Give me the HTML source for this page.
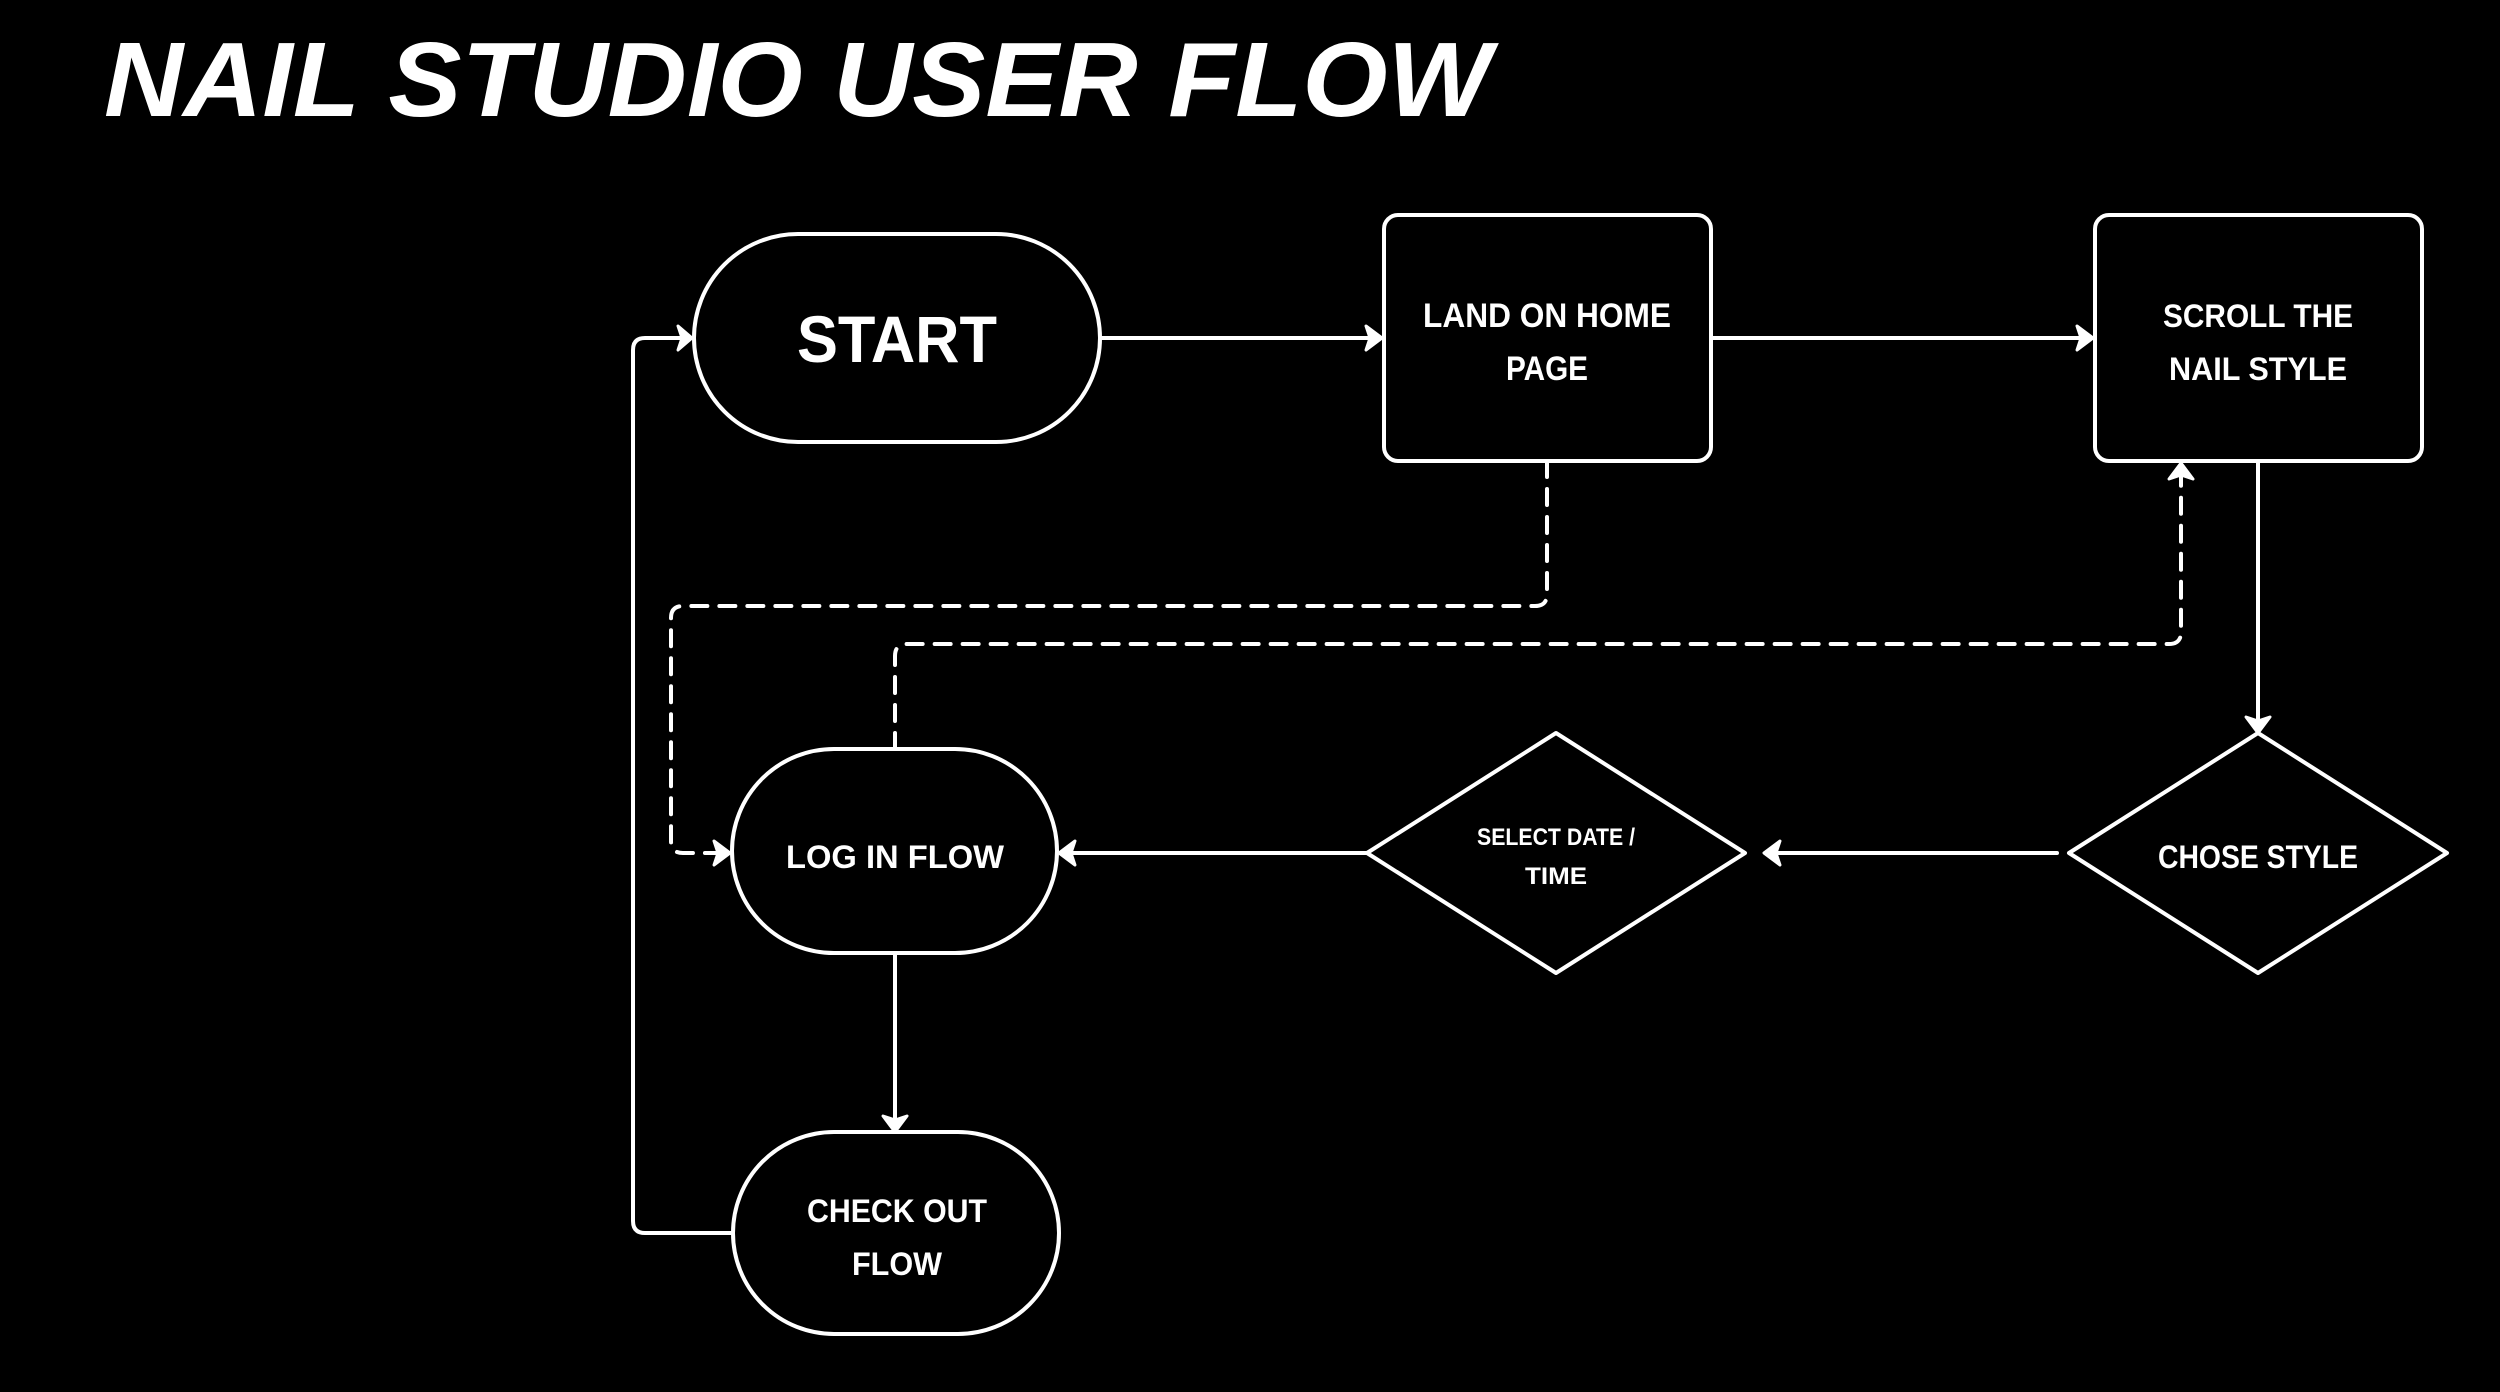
<!DOCTYPE html>
<html><head><meta charset="utf-8"><style>
html,body{margin:0;padding:0;background:#000;width:2500px;height:1392px;overflow:hidden}
svg{display:block}
text{font-family:"Liberation Sans",sans-serif;font-weight:bold;fill:#fff;text-anchor:middle}
</style></head><body>
<svg width="2500" height="1392" viewBox="0 0 2500 1392">
<rect width="2500" height="1392" fill="#000"/>
<text x="104" y="116" style="text-anchor:start;font-size:106px;font-style:italic" textLength="1387" lengthAdjust="spacingAndGlyphs">NAIL STUDIO USER FLOW</text>

<g fill="none" stroke="#fff" stroke-width="4" stroke-linejoin="round" stroke-linecap="round">
<rect x="694" y="234" width="406" height="208" rx="104"/>
<rect x="1384" y="215" width="327" height="246" rx="14"/>
<rect x="2095" y="215" width="327" height="246" rx="14"/>
<path d="M2258 733 L2447 853 L2258 973 L2069 853 Z"/>
<path d="M1556 733 L1745 853 L1556 973 L1367 853 Z"/>
<rect x="732" y="749" width="325" height="204" rx="102"/>
<rect x="733" y="1132" width="326" height="202" rx="101"/>

<path d="M1100 338 H1380"/>
<path d="M1711 338 H2091"/>
<path d="M2258 461 V729"/>
<path d="M2057 853 H1766"/>
<path d="M1367 853 H1061"/>
<path d="M895 953 V1128"/>
<path d="M733 1233 H645 Q633 1233 633 1221 V350 Q633 338 645 338 H690"/>
<path d="M1547 461 V594 Q1547 606 1535 606 H683 Q671 606 671 618 V841 Q671 853 683 853 H728" stroke-dasharray="16 12"/>
<path d="M895 749 V656 Q895 644 907 644 H2169 Q2181 644 2181 632 V465" stroke-dasharray="16 12"/>
</g>
<g fill="#fff" stroke="#fff" stroke-width="3" stroke-linecap="round" stroke-linejoin="round">
<path d="M1366 326 L1382 338 L1366 350 L1370 338 Z"/>
<path d="M2077 326 L2093 338 L2077 350 L2081 338 Z"/>
<path d="M2246 717 L2258 733 L2270 717 L2258 721 Z"/>
<path d="M1780 841 L1764 853 L1780 865 L1776 853 Z"/>
<path d="M1075 841 L1059 853 L1075 865 L1071 853 Z"/>
<path d="M883 1116 L895 1132 L907 1116 L895 1120 Z"/>
<path d="M678 326 L692 338 L678 350 L682 338 Z"/>
<path d="M714 841 L730 853 L714 865 L718 853 Z"/>
<path d="M2169 479 L2181 463 L2193 479 L2181 475 Z"/>
</g>

<text x="897" y="362" style="font-size:66px" textLength="200" lengthAdjust="spacingAndGlyphs">START</text>
<text x="1547" y="327" style="font-size:34px" textLength="248" lengthAdjust="spacingAndGlyphs">LAND ON HOME</text>
<text x="1547" y="380" style="font-size:34px" textLength="82" lengthAdjust="spacingAndGlyphs">PAGE</text>
<text x="2258" y="327" style="font-size:32px" textLength="190" lengthAdjust="spacingAndGlyphs">SCROLL THE</text>
<text x="2258" y="380" style="font-size:32px" textLength="178" lengthAdjust="spacingAndGlyphs">NAIL STYLE</text>
<text x="2258" y="868" style="font-size:32px" textLength="200" lengthAdjust="spacingAndGlyphs">CHOSE STYLE</text>
<text x="1556" y="845" style="font-size:24px" textLength="158" lengthAdjust="spacingAndGlyphs">SELECT DATE /</text>
<text x="1556" y="884" style="font-size:24px" textLength="62" lengthAdjust="spacingAndGlyphs">TIME</text>
<text x="895" y="868" style="font-size:32px" textLength="218" lengthAdjust="spacingAndGlyphs">LOG IN FLOW</text>
<text x="897" y="1222" style="font-size:32px" textLength="180" lengthAdjust="spacingAndGlyphs">CHECK OUT</text>
<text x="897" y="1275" style="font-size:32px" textLength="90" lengthAdjust="spacingAndGlyphs">FLOW</text>
</svg>
</body></html>
